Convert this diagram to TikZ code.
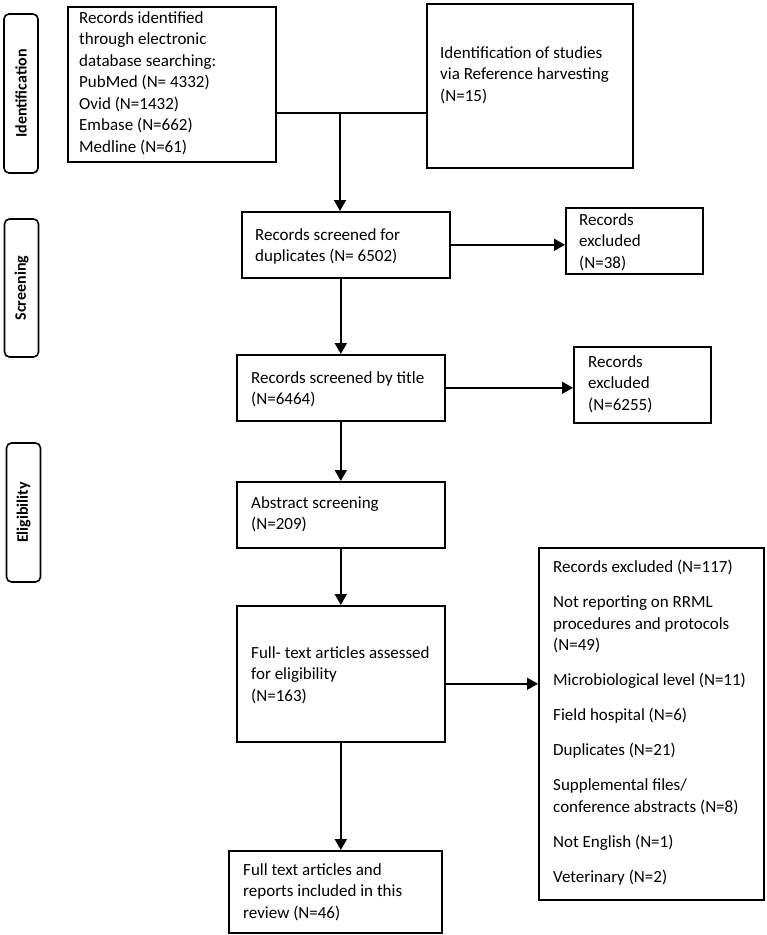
\documentclass[tikz,border=0pt]{standalone}
\usepackage{fontspec}
\setmainfont{Carlito}
\usetikzlibrary{arrows.meta}
\begin{document}
\begin{tikzpicture}[x=1pt,y=-1pt,
  frame/.style={draw, line width=1.6pt, inner sep=0pt, anchor=north west},
  txt/.style={anchor=north west, inner sep=0pt, align=left, font=\fontsize{17}{21.5}\selectfont},
  phase/.style={draw, line width=1.6pt, rounded corners=5pt, rotate=90, inner sep=0pt, minimum height=34pt, font=\fontsize{16}{18}\selectfont\bfseries},
  arr/.style={line width=1.8pt, -{Triangle[length=11pt,width=12pt]}},
  ln/.style={line width=1.8pt}]
\useasboundingbox (0,0) rectangle (767,935);

% phase labels
\node[phase, minimum width=159pt] (pid) at (21,93.5) {Identification};
\node[phase, minimum width=138pt] (psc) at (21.5,288) {Screening};
\node[phase, minimum width=139pt] (pel) at (23.5,512.5) {Eligibility};

% frames
\node[frame, minimum width=208pt, minimum height=155pt] (b1) at (67,6) {};
\node[frame, minimum width=206pt, minimum height=164pt] (b2) at (426,3) {};
\node[frame, minimum width=208pt, minimum height=66pt] (b3) at (241,211) {};
\node[frame, minimum width=137pt, minimum height=66pt] (ex1) at (565,207) {};
\node[frame, minimum width=208pt, minimum height=66pt] (b4) at (236,354) {};
\node[frame, minimum width=137pt, minimum height=76pt] (ex2) at (573,346) {};
\node[frame, minimum width=208pt, minimum height=66pt] (b5) at (236,481) {};
\node[frame, minimum width=208pt, minimum height=136pt] (b6) at (236,605) {};
\node[frame, minimum width=225pt, minimum height=352pt] (big) at (538,547) {};
\node[frame, minimum width=213pt, minimum height=82pt] (fin) at (228,850) {};

% texts
\node[txt] (t1) at (79,11) {Records identified\\through electronic\\database searching:\\PubMed (N= 4332)\\Ovid (N=1432)\\Embase (N=662)\\Medline (N=61)};
\node[txt] (t2) at (440,46) {Identification of studies\\via Reference harvesting\\(N=15)};
\node[txt] (t3) at (255,228) {Records screened for\\duplicates (N= 6502)};
\node[txt] (tx1) at (579,213) {Records\\excluded\\(N=38)};
\node[txt] (t4) at (251,371) {Records screened by title\\(N=6464)};
\node[txt] (tx2) at (588,355) {Records\\excluded\\(N=6255)};
\node[txt] (t5) at (251,496) {Abstract screening\\(N=209)};
\node[txt] (t6) at (251,646) {Full- text articles assessed\\for eligibility\\(N=163)};
\node[txt] (tbig) at (553,560) {Records excluded (N=117)\\[13.5pt]Not reporting on RRML\\procedures and protocols\\(N=49)\\[13.5pt]Microbiological level (N=11)\\[13.5pt]Field hospital (N=6)\\[13.5pt]Duplicates (N=21)\\[13.5pt]Supplemental files/\\conference abstracts (N=8)\\[13.5pt]Not English (N=1)\\[13.5pt]Veterinary (N=2)};
\node[txt] (tfin) at (243,863) {Full text articles and\\reports included in this\\review (N=46)};

% connectors
\coordinate (j) at (340,113);
\draw[ln] (b1.east |- j) -- (b2.west |- j);
\draw[arr] (j) -- (j |- b3.north);
\draw[arr] (b3.east) -- (b3.east -| ex1.west);
\draw[arr] (b4.north |- b3.south) -- (b4.north);
\draw[arr] (b4.east) -- (b4.east -| ex2.west);
\draw[arr] (b4.south) -- (b5.north);
\draw[arr] (b5.south) -- (b6.north);
\draw[arr] ([yshift=-10pt]b6.east) -- ([yshift=-10pt]b6.east -| big.west);
\draw[arr] (b6.south) -- (b6.south |- fin.north);
\end{tikzpicture}
\end{document}
